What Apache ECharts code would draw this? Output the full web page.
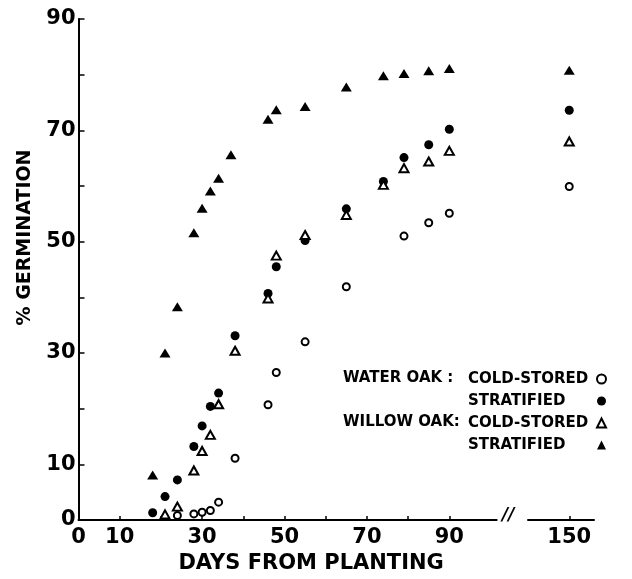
<!DOCTYPE html>
<html>
<head>
<meta charset="utf-8">
<script src="https://cdn.jsdelivr.net/npm/echarts@6/dist/echarts.min.js"></script>
<style>html,body{margin:0;padding:0;background:#fff;}#c{width:632px;height:579px;}</style>
</head>
<body>
<div id="c"></div>
<script>
// ---- data ----
const waterColdDays = [24, 28, 30, 32, 34, 38, 46, 48, 55, 65, 79, 85, 90, 150];
const waterColdPct  = [0.8, 1.1, 1.4, 1.7, 3.2, 11.1, 20.7, 26.5, 32, 41.9, 51, 53.4, 55.1, 59.9];

const waterStratDays = [18, 21, 24, 28, 30, 32, 34, 38, 46, 48, 55, 65, 74, 79, 85, 90, 150];
const waterStratPct  = [1.3, 4.2, 7.2, 13.2, 16.9, 20.4, 22.8, 33.1, 40.7, 45.5, 50.2, 55.9, 60.8, 65.1, 67.4, 70.2, 73.6];

const willowColdDays = [21, 24, 28, 30, 32, 34, 38, 46, 48, 55, 65, 74, 79, 85, 90, 150];
const willowColdPct  = [1.0, 2.4, 8.9, 12.4, 15.3, 20.8, 30.4, 39.8, 47.5, 51.2, 54.8, 60.2, 63.2, 64.4, 66.3, 68];

const willowStratDays = [18, 21, 24, 28, 30, 32, 34, 37, 46, 48, 55, 65, 74, 79, 85, 90, 150];
const willowStratPct  = [8.1, 30, 38.3, 51.6, 56, 59.1, 61.4, 65.6, 72, 73.7, 74.3, 77.8, 79.8, 80.2, 80.7, 81.1, 80.8];

const xTickValues = [10, 20, 30, 40, 50, 60, 70, 80, 90];
const xLabelValues = [0, 10, 30, 50, 70, 90];
const xBreakLabelValues = [150];
const yTickValues = [10, 20, 30, 40, 50, 60, 70, 80, 90];
const yLabelValues = [0, 10, 30, 50, 70, 90];

const seriesNames = ['Water oak cold-stored', 'Water oak stratified', 'Willow oak cold-stored', 'Willow oak stratified'];
const legendText = ['COLD-STORED', 'STRATIFIED', 'COLD-STORED', 'STRATIFIED'];

// ---- build ----
const FONT = 'DejaVu Sans';
const BREAK_AT = 100;
function pairs(days, vals, far) {
  const out = [];
  days.forEach((d, i) => { if ((d > BREAK_AT) === far) out.push([d, vals[i]]); });
  return out;
}
const groups = [
  {days: waterColdDays, vals: waterColdPct, symbol: 'emptyCircle', size: 7, border: 1.8},
  {days: waterStratDays, vals: waterStratPct, symbol: 'circle', size: 9, border: 0},
  {days: willowColdDays, vals: willowColdPct, symbol: 'emptyTriangle', size: [9, 8], border: 1.8},
  {days: willowStratDays, vals: willowStratPct, symbol: 'triangle', size: [11, 9], border: 0}
];
const series = [];
groups.forEach((g, i) => {
  [false, true].forEach(far => {
    series.push({
      type: 'scatter',
      name: seriesNames[i],
      xAxisIndex: far ? 1 : 0,
      yAxisIndex: far ? 1 : 0,
      data: pairs(g.days, g.vals, far),
      symbol: g.symbol,
      symbolSize: g.size,
      itemStyle: {color: '#000', borderColor: '#000', borderWidth: g.border, opacity: 1},
      emphasis: {disabled: true},
      z: 3
    });
  });
});

const axisLineStyle = {color: '#000', width: 2};
const labelStyle = {color: '#000', fontFamily: FONT, fontWeight: 'bold', fontSize: 21};

const option = {
  backgroundColor: '#fff',
  animation: false,
  grid: [
    {left: 78.5, right: 135.3, top: 19, bottom: 59},
    {left: 528, right: 38, top: 19, bottom: 59}
  ],
  xAxis: [
    {
      type: 'value', gridIndex: 0, min: 0, max: 101.5,
      splitLine: {show: false},
      axisLine: {lineStyle: axisLineStyle},
      axisTick: {inside: true, length: 4, customValues: xTickValues, lineStyle: {color: '#000', width: 1.5}},
      axisLabel: Object.assign({margin: 7, customValues: xLabelValues}, labelStyle),
      name: 'DAYS FROM PLANTING',
      nameLocation: 'middle',
      nameGap: 32,
      nameTextStyle: {color: '#000', fontFamily: FONT, fontWeight: 'bold', fontSize: 21, padding: [0, 0, 0, 47]}
    },
    {
      type: 'value', gridIndex: 1, min: 140, max: 156,
      splitLine: {show: false},
      axisLine: {lineStyle: axisLineStyle},
      axisTick: {inside: true, length: 4, customValues: xBreakLabelValues, lineStyle: {color: '#000', width: 1.5}},
      axisLabel: Object.assign({margin: 7, customValues: xBreakLabelValues}, labelStyle)
    }
  ],
  yAxis: [
    {
      type: 'value', gridIndex: 0, min: 0, max: 90,
      splitLine: {show: false},
      axisLine: {lineStyle: axisLineStyle},
      axisTick: {inside: true, length: 6, customValues: yTickValues, lineStyle: {color: '#000', width: 1.5}},
      axisLabel: Object.assign({margin: 3, customValues: yLabelValues}, labelStyle),
      name: '% GERMINATION',
      nameLocation: 'middle',
      nameRotate: 90,
      nameGap: 44,
      nameTextStyle: {color: '#000', fontFamily: FONT, fontWeight: 'bold', fontSize: 19, padding: [0, 0, 0, 64]}
    },
    {
      type: 'value', gridIndex: 1, min: 0, max: 90, show: false
    }
  ],
  legend: {
    data: seriesNames,
    orient: 'vertical',
    left: 468,
    top: 371.5,
    padding: 0,
    itemGap: 7,
    itemWidth: 9,
    itemHeight: 9,
    align: 'right',
    selectedMode: false,
    itemStyle: {opacity: 1},
    formatter: name => '{t|' + legendText[seriesNames.indexOf(name)] + '}',
    textStyle: {
      color: '#000', fontFamily: FONT, fontWeight: 'bold', fontSize: 15, lineHeight: 15,
      rich: {t: {width: 124, align: 'left', color: '#000', fontFamily: FONT, fontWeight: 'bold', fontSize: 15, lineHeight: 15}}
    }
  },
  graphic: [
    {type: 'text', left: 343, top: 371, style: {text: 'WATER OAK :', fill: '#000', font: 'bold 15px "DejaVu Sans"'}},
    {type: 'text', left: 343, top: 415, style: {text: 'WILLOW OAK:', fill: '#000', font: 'bold 15px "DejaVu Sans"'}},
    {type: 'text', left: 502, top: 507, style: {text: '//', fill: '#000', font: 'italic bold 17px "DejaVu Sans"'}}
  ],
  series: series
};

const chart = echarts.init(document.getElementById('c'), null, {renderer: 'canvas'});
chart.setOption(option);
</script>
</body>
</html>
